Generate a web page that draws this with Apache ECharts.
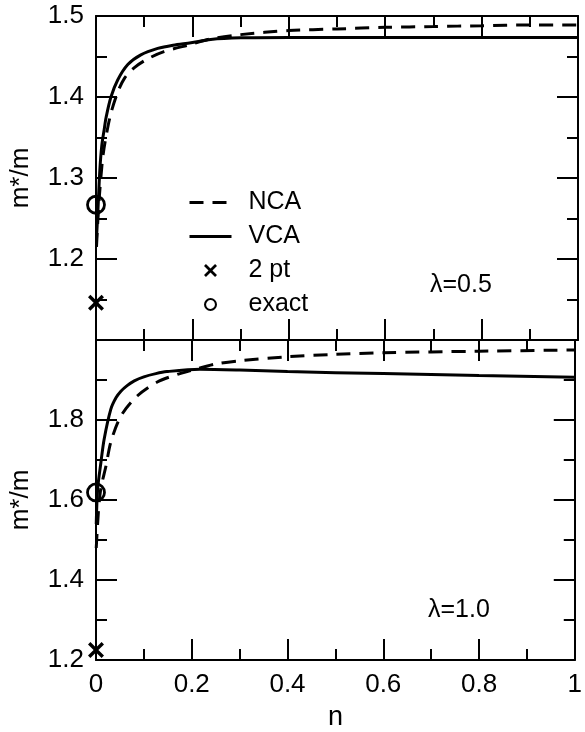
<!DOCTYPE html>
<html>
<head>
<meta charset="utf-8">
<script src="https://cdn.jsdelivr.net/npm/echarts@6/dist/echarts.min.js"></script>
<style>html,body{margin:0;padding:0;background:#fff}#c{width:585px;height:732px}</style>
</head>
<body>
<div id="c"></div>
<script>
// ---- data ----
// lambda = 0.5 (top panel)
var ncaTopN = [0.001,0.005,0.01,0.015,0.022,0.031,0.045,0.059,0.079,0.107,0.141,0.197,0.24,0.3,0.4,0.5,0.6,0.7,0.8,0.9,1.0];
var ncaTopY = [1.215,1.26,1.30,1.33,1.355,1.38,1.406,1.423,1.436,1.447,1.456,1.465,1.472,1.477,1.482,1.484,1.486,1.487,1.488,1.489,1.489];
var vcaTopN = [0.001,0.004,0.008,0.012,0.017,0.021,0.031,0.045,0.066,0.093,0.128,0.16,0.197,0.238,0.3,0.4,0.6,0.8,1.0];
var vcaTopY = [1.225,1.26,1.31,1.34,1.36,1.375,1.400,1.421,1.440,1.452,1.460,1.464,1.467,1.471,1.473,1.4735,1.4735,1.4735,1.4735];
var twoPtTop = [0, 1.146];
var exactTop = [0, 1.267];
// lambda = 1.0 (bottom panel)
var ncaBotN = [0.0005,0.005,0.010,0.021,0.031,0.052,0.086,0.128,0.17,0.2,0.25,0.3,0.4,0.5,0.6,0.8,1.0];
var ncaBotY = [1.48,1.57,1.628,1.686,1.745,1.810,1.860,1.895,1.914,1.924,1.94,1.948,1.958,1.964,1.968,1.972,1.975];
var vcaBotN = [0.0005,0.0035,0.0104,0.017,0.031,0.042,0.052,0.065,0.08,0.1,0.125,0.148,0.217,0.3,0.4,0.6,0.8,1.0];
var vcaBotY = [1.54,1.628,1.695,1.752,1.827,1.856,1.872,1.886,1.898,1.908,1.916,1.921,1.927,1.925,1.921,1.916,1.911,1.907];
var twoPtBot = [0, 1.225];
var exactBot = [0, 1.619];
var seriesNames = ['NCA','VCA','2 pt','exact'];
var panelLabels = ['\u03bb=0.5','\u03bb=1.0'];

function pairs(xs, ys){ return xs.map(function(x,i){ return [x, ys[i]]; }); }

var FONT = '"Liberation Sans", Arial, sans-serif';
var crossPath = 'path://M3,0 L10,7 L17,0 L20,3 L13,10 L20,17 L17,20 L10,13 L3,20 L0,17 L7,10 L0,3 Z';
var ringPath = 'path://M10,0 A10,10 0 1,1 9.99,0 Z M10,3.2 A6.8,6.8 0 1,0 10.01,3.2 Z';

function xAx(grid, pos, labels){
  return {
    type:'value', gridIndex:grid, position:pos, min:0, max:1, interval:0.2,
    axisLine:{show:true, onZero:false, lineStyle:{color:'#000', width:2}},
    axisTick:{show:true, inside:true, length:21, lineStyle:{color:'#000', width:2}},
    minorTick:{show:true, splitNumber:2, length:11, lineStyle:{color:'#000', width:2}},
    splitLine:{show:false},
    axisLabel:{show:labels, margin:12, color:'#000', fontSize:26, fontFamily:FONT},
    name: labels ? 'n' : '', nameLocation:'middle', nameGap:44,
    nameTextStyle:{color:'#000', fontSize:27, fontFamily:FONT}
  };
}
function yAx(grid, pos, min, max, interval, labels, hideVal){
  return {
    type:'value', gridIndex:grid, position:pos, min:min, max:max, interval:interval,
    axisLine:{show:true, onZero:false, lineStyle:{color:'#000', width:2}},
    axisTick:{show:true, inside:true, length:21, lineStyle:{color:'#000', width:2}},
    minorTick:{show:true, splitNumber:2, length:11, lineStyle:{color:'#000', width:2}},
    splitLine:{show:false},
    axisLabel:{show:labels, margin:12, color:'#000', fontSize:26, fontFamily:FONT,
      formatter:function(v){ return Math.abs(v-hideVal)<1e-6 ? '' : v.toFixed(1); }},
    name: labels ? 'm*/m' : '', nameLocation:'middle', nameGap:62, nameRotate:90,
    nameTextStyle:{color:'#000', fontSize:26, fontFamily:FONT}
  };
}
function lineS(name, data, xi, yi, dashed){
  return {
    name:name, type:'line', xAxisIndex:xi, yAxisIndex:yi, data:data,
    symbol:'none', smooth:0.3, clip:true, z:3,
    lineStyle:{color:'#000', width:3, type: dashed ? [14,9] : 'solid'},
    itemStyle:{color:'#000'}
  };
}
function crossS(data, xi, yi){
  return {name:'2 pt', type:'scatter', xAxisIndex:xi, yAxisIndex:yi, data:[data],
    symbol:crossPath, symbolSize:16, clip:false, z:5, itemStyle:{color:'#000', opacity:1}};
}
function circS(data, xi, yi){
  return {name:'exact', type:'scatter', xAxisIndex:xi, yAxisIndex:yi, data:[data],
    symbol:'circle', symbolSize:17, clip:false, z:5,
    itemStyle:{color:'rgba(0,0,0,0)', borderColor:'#000', borderWidth:2.8, opacity:1}};
}

var option = {
  backgroundColor:'#fff',
  animation:false,
  grid:[
    {left:95, top:16, width:483, height:324},
    {left:95, top:340, width:483, height:323}
  ],
  xAxis:[ xAx(0,'bottom',false), xAx(0,'top',false), xAx(1,'bottom',true), xAx(1,'top',false) ],
  yAxis:[ yAx(0,'left',1.1,1.5,0.1,true,1.1), yAx(0,'right',1.1,1.5,0.1,false,1.1),
          yAx(1,'left',1.2,2.0,0.2,true,2.0), yAx(1,'right',1.2,2.0,0.2,false,2.0) ],
  legend:{
    orient:'vertical', left:183, top:185, itemWidth:42, itemHeight:13, itemGap:9,
    selectedMode:false,
    textStyle:{color:'#000', fontSize:25, fontFamily:FONT, padding:[0,0,0,12]},
    data:[
      {name:seriesNames[0], itemStyle:{opacity:0}, lineStyle:{width:3, opacity:1}},
      {name:seriesNames[1], itemStyle:{opacity:0}, lineStyle:{width:3, opacity:1}},
      {name:seriesNames[2], icon:crossPath},
      {name:seriesNames[3], icon:ringPath, itemStyle:{color:'#000', borderWidth:0}}
    ]
  },
  graphic:[
    {type:'text', left:430, top:273, style:{text:panelLabels[0], fill:'#000', fontSize:25, fontFamily:FONT}},
    {type:'text', left:428, top:598, style:{text:panelLabels[1], fill:'#000', fontSize:25, fontFamily:FONT}}
  ],
  series:[
    lineS(seriesNames[0], pairs(ncaTopN, ncaTopY), 0, 0, true),
    lineS(seriesNames[1], pairs(vcaTopN, vcaTopY), 0, 0, false),
    crossS(twoPtTop, 0, 0),
    circS(exactTop, 0, 0),
    lineS(seriesNames[0], pairs(ncaBotN, ncaBotY), 2, 2, true),
    lineS(seriesNames[1], pairs(vcaBotN, vcaBotY), 2, 2, false),
    crossS(twoPtBot, 2, 2),
    circS(exactBot, 2, 2)
  ]
};
var chart = echarts.init(document.getElementById('c'), null, {renderer:'canvas'});
chart.setOption(option);
</script>
</body>
</html>
